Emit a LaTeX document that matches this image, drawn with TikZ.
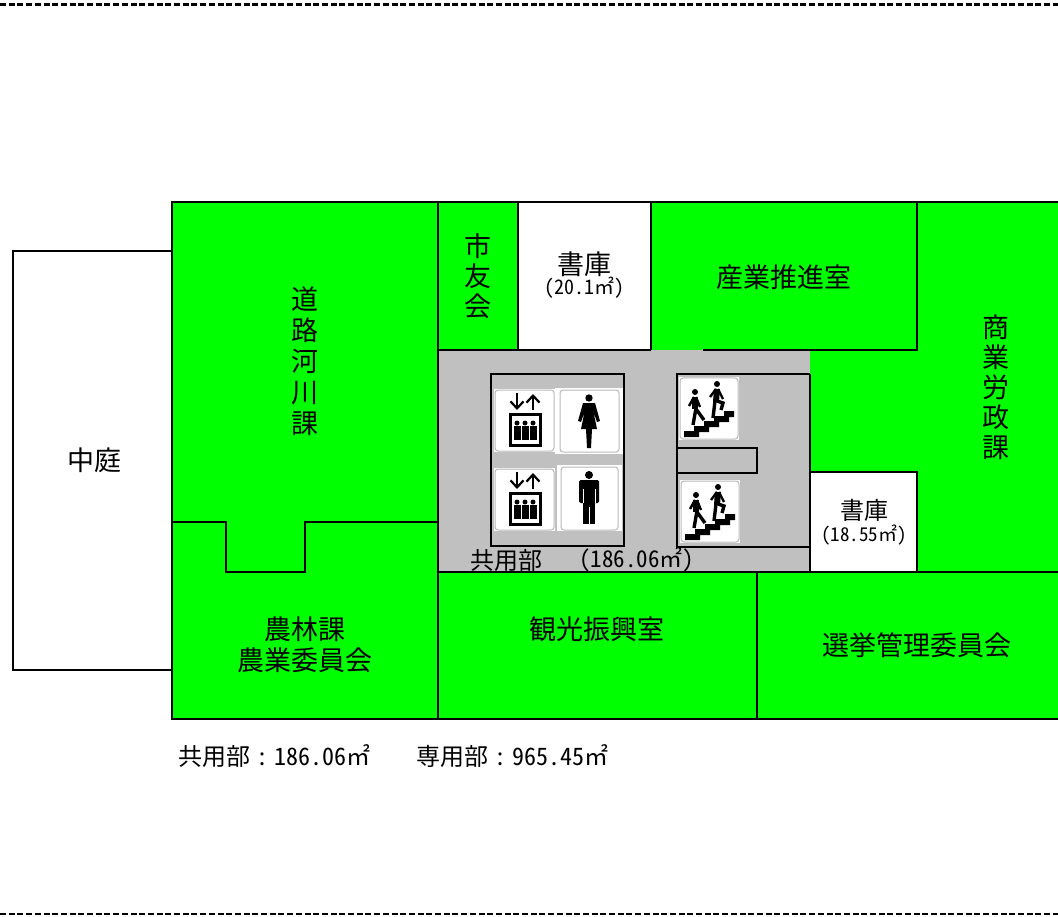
\documentclass[tikz,border=0pt]{standalone}
\usepackage{fontspec}
\setmainfont{Noto Sans CJK JP}[RawFeature=+hwid]
\usetikzlibrary{calc}
\usetikzlibrary{arrows.meta}
\definecolor{roomgreen}{HTML}{00FF00}
\definecolor{commongray}{HTML}{C0C0C0}
\newcommand{\roomfont}[1]{\fontsize{#1}{#1}\selectfont}
\newcommand{\gapcolon}{\hspace{6pt}：\hspace{6pt}}

\tikzset{
  wall/.style={black, line width=2.4pt},
  breakline/.style={line width=2.4pt, dash pattern=on 6pt off 2.7pt},
  roomlabel/.style={font=\roomfont{27}, inner sep=0pt, align=center},
  tatelabel/.style={roomlabel, text width=30pt, align=center},
  smalllabel/.style={font=\roomfont{20}, inner sep=0pt},
  signbase/.style={fill=white, draw=gray!55, line width=1pt, rounded corners=3pt},
  liftarrow/.style={line width=2.2pt, -{Straight Barb[length=7pt,width=13pt]}},
  liftsign/.pic={
    \fill[white] (0,0) rectangle (61,63);
    \draw[signbase] (1,1) rectangle (60,62);
    \draw[liftarrow] (23,4) -- (23,21);
    \draw[liftarrow] (39,21) -- (39,5);
    \draw[line width=3pt] (16,25) rectangle (46,56);
    \foreach \px in {23,31,39} {
      \fill (\px,34) circle (2.5);
      \fill (\px-3.5,37) rectangle (\px+3.5,51);
    }
  },
  womansign/.pic={
    \fill[white] (0,0) rectangle (68,66);
    \draw[signbase] (5,2) rectangle (64,64);
    \fill (34,10) circle (3.7);
    \fill (28,15) -- (40,15) -- (45,33) -- (42,34) -- (38.5,24) -- (42,41) -- (37,41)
      -- (36,60) -- (32,60) -- (31,41) -- (26,41) -- (29.5,24) -- (26,34) -- (23,33) -- cycle;
  },
  mansign/.pic={
    \fill[white] (0,0) rectangle (65,66);
    \draw[signbase] (4,2) rectangle (61,65);
    \fill (32,10) circle (4);
    \fill[rounded corners=1.5pt] (22,15) rectangle (42,38);
    \fill (26,15) rectangle (38,59);
    \fill[white] (31.5,42) rectangle (32.5,59);
    \draw[white, line width=0.6pt] (26,24) -- (26,38) (38,24) -- (38,38);
  },
  stairsign/.pic={
    \fill[white] (0,0) rectangle (60,63);
    \draw[signbase] (1,1) rectangle (59,62);
    % steps
    \fill (5,60) -- (5,54) -- (15,54) -- (15,49) -- (25,49) -- (25,44) -- (35,44)
      -- (35,39) -- (45,39) -- (45,34) -- (55,34) -- (55,40) -- (50,40) -- (50,45)
      -- (40,45) -- (40,50) -- (30,50) -- (30,55) -- (20,55) -- (20,60) -- cycle;
    % walker behind
    \fill (16,15) circle (3);
    \draw[line width=6pt] (16,20) -- (16,32);
    \draw[line width=3.4pt] (17,31) -- (14,48);
    \draw[line width=3.4pt] (17,32) -- (25,43);
    \draw[line width=2.4pt] (15,20) -- (10,29);
    \draw[line width=2.4pt] (17,20) -- (21,30);
    % walker ahead
    \fill (38,7) circle (3);
    \draw[line width=6pt] (38,12) -- (37,25);
    \draw[line width=3.4pt] (36,24) -- (34,41);
    \draw[line width=3.4pt] (38,24) -- (44,26) -- (42,33);
    \draw[line width=2.4pt] (37,12) -- (31,20);
    \draw[line width=2.4pt] (39,12) -- (44,22);
  }
}

\begin{document}
\begin{tikzpicture}[x=1pt, y=-1pt]
  \useasboundingbox (0,0) rectangle (1058,917);

  % page break lines
  \draw[breakline] (0,4.5) -- (1058,4.5);
  \draw[breakline] (0,914) -- (1058,914);

  % floor areas
  \fill[roomgreen] (172,202) rectangle (1058,719);
  \fill[commongray] (438,350) rectangle (810,572);
  \fill[white] (518,202) rectangle (651,350);
  \fill[white] (810,472) rectangle (917,572);

  % walls
  \draw[wall] (172,251) -- (13,251) -- (13,670) -- (172,670);
  \draw[wall] (1058,202) -- (172,202) -- (172,719) -- (1058,719);
  \draw[wall] (438,202) -- (438,719);
  \draw[wall] (518,202) -- (518,350);
  \draw[wall] (651,202) -- (651,350);
  \draw[wall] (917,202) -- (917,350) -- (703,350);
  \draw[wall] (651,350) -- (438,350);
  \draw[wall] (810,374) -- (810,572);
  \draw[wall] (810,472) -- (917,472) -- (917,572);
  \draw[wall] (438,572) -- (1058,572);
  \draw[wall] (757,572) -- (757,719);
  \draw[wall] (172,522) -- (226,522) -- (226,572) -- (305,572) -- (305,522) -- (438,522);

  % core
  \draw[wall] (491,374) rectangle (624,546);
  \draw[wall] (810,374) -- (677,374) -- (677,547) -- (810,547);
  \draw[wall] (677,448) -- (757,448) -- (757,473) -- (677,473);

  % signs
  \pic at (494,389) {liftsign};
  \pic at (555,388) {womansign};
  \pic at (494,468) {liftsign};
  \pic at (557,465) {mansign};
  \pic at (679,377) {stairsign};
  \pic at (680,480) {stairsign};

  % room names
  \node[roomlabel] (nakaniwa) at (94,460) {中庭};
  \node[tatelabel] (doro) at (305,361) {道\\[4pt]路\\[4pt]河\\[4pt]川\\[4pt]課};
  \node[tatelabel] (shiyu) at (478,276) {市\\[3pt]友\\[3pt]会};
  \node[roomlabel] (shoko1) at (584,264) {書庫};
  \node[smalllabel] (shoko1area) at (584,288) {(20.1㎡)};
  \node[roomlabel] (sangyo) at (784,277) {産業推進室};
  \node[tatelabel] (shoko) at (996,387) {商\\[3pt]業\\[3pt]労\\[3pt]政\\[3pt]課};
  \node[roomlabel, font=\roomfont{24}] (shoko2) at (864,510) {書庫};
  \node[smalllabel, font=\roomfont{19}] (shoko2area) at (864,535) {(18.55㎡)};
  \node[roomlabel, font=\roomfont{24}, anchor=west] (kyoyo) at (470,560) {共用部};
  \node[roomlabel, font=\roomfont{23}, anchor=west] (kyoyoarea) at (579,560) {(186.06㎡)};
  \node[roomlabel] (kanko) at (597,629) {観光振興室};
  \node[roomlabel] (senkyo) at (917,645) {選挙管理委員会};
  \node[roomlabel] (norin) at (305,629) {農林課};
  \node[roomlabel] (nogyo) at (305,660) {農業委員会};

  % totals
  \node[roomlabel, font=\roomfont{24}, anchor=west] (totalkyoyo) at (178,756) {共用部\gapcolon 186.06㎡};
  \node[roomlabel, font=\roomfont{24}, anchor=west] (totalsenyo) at (416,756) {専用部\gapcolon 965.45㎡};
\end{tikzpicture}
\end{document}
